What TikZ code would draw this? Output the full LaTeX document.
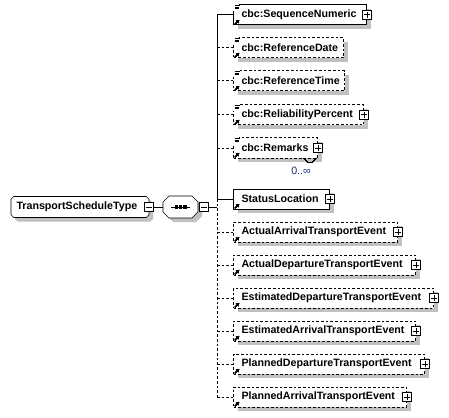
\documentclass[tikz,border=0pt]{standalone}
\usepackage{fontspec}
\newfontfamily\diagfont{Liberation Sans}
\usetikzlibrary{arrows.meta,shadows,backgrounds}
\definecolor{shadowc}{HTML}{C0C0C0}
\definecolor{occ}{HTML}{1C2A7A}
% small marks on the element boxes
\newcommand{\docicon}[1]{\fill[white] ([shift={(-.6pt,.6pt)}]#1.north west) rectangle ([shift={(4.6pt,-4.8pt)}]#1.north west);
  \draw[solid,line width=.6pt] ([shift={(1.2pt,-.6pt)}]#1.north west) -- ++(4pt,0pt) ([shift={(1.2pt,-1.9pt)}]#1.north west) -- ++(3.2pt,0pt) ([shift={(1.2pt,-3.2pt)}]#1.north west) -- ++(3.2pt,0pt);}
\newcommand{\reficon}[1]{\draw[solid,line width=.75pt,-{Triangle[length=2.3pt,width=2.6pt]}] ([shift={(1.4pt,.9pt)}]#1.south west) -- ++(3.3pt,3.3pt);}
% outline with cut corners round a node: node, cut, shift
\newcommand{\chamferpath}[3]{([shift={(#2+#3,-#3)}]#1.north west) -- ([shift={(-#2+#3,-#3)}]#1.north east) -- ([shift={(#3,-#2-#3)}]#1.north east)
  -- ([shift={(#3,#2-#3)}]#1.south east) -- ([shift={(-#2+#3,-#3)}]#1.south east) -- ([shift={(#2+#3,-#3)}]#1.south west)
  -- ([shift={(#3,#2-#3)}]#1.south west) -- ([shift={(#3,-#2-#3)}]#1.north west) -- cycle}

\begin{document}
\begin{tikzpicture}[x=.75pt,y=-.75pt,line width=.75pt,
  elfont/.style={font=\diagfont\fontsize{8pt}{9.6pt}\selectfont\bfseries},
  elem/.style={draw,fill=white,anchor=west,minimum height=15pt,inner xsep=6pt,inner ysep=0pt,
    elfont,align=left,execute at begin node={\hyphenpenalty=10000},
    drop shadow={shadow xshift=3pt,shadow yshift=-3pt,fill=shadowc,opacity=1}},
  optel/.style={elem,dash pattern=on 2pt off 1.5pt},
  optline/.style={dash pattern=on 2pt off 1.5pt},
  plusbox/.style={draw,solid,fill=white,minimum size=7pt,inner sep=0pt,
    path picture={\draw ([xshift=1.3pt]path picture bounding box.west) -- ([xshift=-1.3pt]path picture bounding box.east)
      ([yshift=-1.3pt]path picture bounding box.north) -- ([yshift=1.3pt]path picture bounding box.south);}},
  minusbox/.style={draw,solid,fill=white,minimum size=7pt,inner sep=0pt,
    path picture={\draw ([xshift=1.3pt]path picture bounding box.west) -- ([xshift=-1.3pt]path picture bounding box.east);}}]
\useasboundingbox (0,0) rectangle (449,417);

% root type and sequence
\node[anchor=west,minimum height=15pt,inner xsep=3.75pt,inner ysep=0pt,elfont,align=left,text width=95.25pt] (root) at (11,207) {TransportScheduleType};
\node[anchor=west,minimum width=25.5pt,minimum height=15.75pt,inner sep=0pt] (seq) at (163,207) {};
\begin{scope}[on background layer]
\fill[shadowc] \chamferpath{root}{2pt}{3pt};
\filldraw[fill=white] \chamferpath{root}{2pt}{0pt};
\fill[shadowc] \chamferpath{seq}{4.5pt}{3pt};
\filldraw[fill=white] \chamferpath{seq}{4.5pt}{0pt};
\end{scope}
\draw ([xshift=-7pt]seq.center) -- ([xshift=7pt]seq.center);
\foreach \dx in {-3.2,0,3.2} \fill ([xshift=\dx pt]seq.center) +(-1.3pt,-1.3pt) rectangle +(1.3pt,1.3pt);
\coordinate (fork) at (217,207);

% child elements
\node[elem,text width=87.75pt] (b1) at (233,15) {cbc:SequenceNumeric};
\node[optel,text width=70.5pt] (b2) at (233,48) {cbc:ReferenceDate};
\node[optel,text width=71.25pt] (b3) at (233,81) {cbc:ReferenceTime};
\node[optel,text width=85.5pt] (b4) at (233,115) {cbc:ReliabilityPercent};
\node[optel,text width=51pt] (b5) at (233,148) {cbc:Remarks};
\node[elem,text width=60pt] (b6) at (233,199) {StatusLocation};
\node[optel,text width=111pt] (b7) at (233,232) {ActualArrivalTransportEvent};
\node[optel,text width=124.5pt] (b8) at (233,265) {ActualDepartureTransportEvent};
\node[optel,text width=138pt] (b9) at (233,298) {EstimatedDepartureTransportEvent};
\node[optel,text width=124.5pt] (b10) at (233,331) {EstimatedArrivalTransportEvent};
\node[optel,text width=131.25pt] (b11) at (233,364) {PlannedDepartureTransportEvent};
\node[optel,text width=117.75pt] (b12) at (233,397) {PlannedArrivalTransportEvent};

% connectors
\node[minusbox] (rm) at (root.east) {};
\node[minusbox] (sm) at ([xshift=4.5pt]seq.east) {};
\draw (rm.east) -- (seq.west);
\draw (sm.east) -- (fork);
\draw (fork |- b1.west) -- (fork |- b6.west);
\draw[optline] (fork |- b6.west) -- (fork |- b12.west);
\foreach \b in {b1,b6} \draw (\b.west -| fork) -- (\b.west);
\foreach \b in {b2,b3,b4,b5,b7,b8,b9,b10,b11,b12} \draw[optline] (\b.west -| fork) -- (\b.west);

% expand boxes and marks
\foreach \b/\p in {b1/p1,b4/p4,b5/p5,b6/p6,b7/p7,b8/p8,b9/p9,b10/p10,b11/p11,b12/p12} \node[plusbox] (\p) at (\b.east) {};
\foreach \b in {b1,b2,b3,b4,b5} \docicon{\b}
\foreach \b in {b1,b2,b3,b4,b5,b6,b7,b8,b9,b10,b11,b12} \reficon{\b}
\draw[line width=.5pt] ([xshift=-10.5pt]b5.south east) -- ++(3pt,-3pt) -- ++(3pt,0pt) -- ++(3pt,3pt);
\node[font=\diagfont\fontsize{8pt}{9.6pt}\selectfont,text=occ,inner sep=0pt] (occ5) at (301,171) {0..∞};
\end{tikzpicture}
\end{document}
